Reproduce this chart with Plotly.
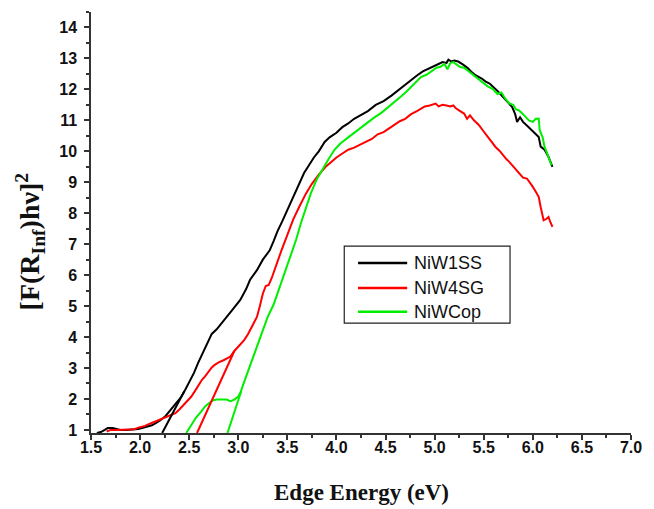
import plotly.graph_objects as go

# ---- data ----
ss_x = [1.56,1.60,1.64,1.67,1.72,1.76,1.80,1.86,1.92,1.98,2.02,2.08,2.12,2.16,2.21,2.26,2.30,2.34,2.38,2.42,
        2.46,2.50,2.55,2.59,2.64,2.69,2.73,2.78,2.82,2.86,2.90,2.95,3.02,3.08,3.12,3.19,3.25,3.28,3.32,3.36,
        3.40,3.45,3.50,3.55,3.62,3.67,3.72,3.77,3.82,3.88,3.93,4.00,4.06,4.12,4.18,4.24,4.32,4.40,4.48,4.56,
        4.63,4.70,4.76,4.82,4.88,4.94,5.00,5.04,5.08,5.12,5.14,5.17,5.20,5.24,5.29,5.34,5.38,5.42,5.48,5.52,
        5.56,5.60,5.64,5.69,5.74,5.79,5.82,5.84,5.87,5.90,5.95,5.99,6.03,6.06,6.08,6.12,6.16,6.18,6.20]
ss_y = [0.90,0.93,1.00,1.06,1.06,1.03,1.00,1.00,1.01,1.03,1.06,1.10,1.15,1.22,1.32,1.45,1.60,1.75,1.90,2.07,
        2.30,2.55,2.85,3.16,3.50,3.88,4.10,4.25,4.40,4.55,4.72,4.92,5.20,5.55,5.85,6.16,6.50,6.62,6.80,7.10,
        7.42,7.75,8.10,8.45,8.97,9.30,9.55,9.80,10.00,10.30,10.45,10.60,10.78,10.90,11.05,11.15,11.30,11.50,11.62,11.80,
        11.98,12.15,12.30,12.45,12.58,12.68,12.78,12.82,12.88,12.85,12.96,12.90,12.93,12.90,12.80,12.68,12.55,12.45,12.35,12.25,
        12.19,12.08,11.95,11.78,11.60,11.43,11.20,10.95,11.10,10.95,10.80,10.68,10.55,10.46,10.15,10.05,9.82,9.65,9.50]

sg_x = [1.66,1.70,1.76,1.82,1.88,1.94,1.99,2.05,2.10,2.15,2.19,2.25,2.30,2.36,2.40,2.45,2.49,2.52,2.56,2.60,
        2.63,2.66,2.70,2.73,2.76,2.80,2.85,2.89,2.92,2.96,3.00,3.03,3.06,3.10,3.15,3.19,3.22,3.25,3.28,3.31,
        3.34,3.39,3.44,3.50,3.56,3.62,3.69,3.75,3.82,3.89,3.95,4.00,4.06,4.12,4.18,4.24,4.30,4.36,4.42,4.48,
        4.54,4.59,4.65,4.70,4.76,4.82,4.86,4.90,4.95,5.01,5.04,5.08,5.12,5.16,5.19,5.22,5.26,5.30,5.33,5.36,
        5.40,5.45,5.49,5.53,5.58,5.62,5.66,5.70,5.73,5.76,5.79,5.83,5.86,5.90,5.94,5.97,5.99,6.02,6.06,6.08,
        6.10,6.11,6.14,6.16,6.18,6.20]
sg_y = [0.95,1.00,1.00,1.00,1.00,1.02,1.08,1.13,1.20,1.27,1.32,1.40,1.46,1.54,1.66,1.82,1.96,2.07,2.26,2.48,
        2.62,2.72,2.90,3.02,3.10,3.18,3.25,3.32,3.37,3.55,3.70,3.80,3.90,4.10,4.40,4.65,5.00,5.40,5.65,5.68,
        5.90,6.38,6.80,7.30,7.80,8.20,8.64,8.95,9.25,9.50,9.68,9.80,9.93,10.05,10.12,10.22,10.32,10.40,10.55,10.62,
        10.75,10.85,10.98,11.05,11.20,11.30,11.38,11.45,11.48,11.54,11.45,11.50,11.48,11.45,11.48,11.38,11.30,11.22,11.05,11.16,
        11.00,10.85,10.68,10.52,10.30,10.14,10.02,9.85,9.75,9.66,9.55,9.40,9.28,9.15,9.12,9.00,8.90,8.75,8.53,8.20,
        7.90,7.77,7.82,7.88,7.70,7.56]

cop_x = [2.47,2.52,2.57,2.62,2.66,2.70,2.74,2.78,2.83,2.88,2.92,2.96,3.00,3.02,3.06,3.10,3.15,3.20,3.25,3.30,
         3.36,3.42,3.48,3.54,3.59,3.64,3.69,3.74,3.80,3.86,3.92,3.98,4.04,4.12,4.18,4.22,4.30,4.38,4.46,4.52,
         4.59,4.66,4.72,4.78,4.82,4.86,4.92,4.97,5.02,5.06,5.10,5.13,5.16,5.19,5.22,5.26,5.30,5.34,5.39,5.44,
         5.49,5.54,5.59,5.64,5.68,5.72,5.76,5.80,5.83,5.86,5.90,5.93,5.96,6.00,6.03,6.06,6.07,6.10,6.12,6.15,
         6.17,6.19]
cop_y = [0.90,1.15,1.40,1.58,1.75,1.86,1.95,1.98,1.97,1.98,1.93,1.98,2.08,2.19,2.55,2.90,3.35,3.80,4.25,4.65,
         5.05,5.60,6.15,6.70,7.15,7.70,8.20,8.65,9.10,9.45,9.75,10.05,10.25,10.45,10.60,10.68,10.90,11.08,11.25,11.40,
         11.58,11.78,11.95,12.15,12.28,12.40,12.48,12.60,12.70,12.73,12.82,12.65,12.85,12.88,12.80,12.72,12.70,12.60,12.50,12.35,
         12.25,12.10,12.02,11.85,11.90,11.70,11.55,11.50,11.35,11.32,11.20,11.10,11.00,10.95,11.05,11.06,10.68,10.45,10.14,9.90,
         9.75,9.55]

# tangent (band-gap extrapolation) lines
ss_tan_x = [2.225, 2.45]
ss_tan_y = [0.90, 2.25]
sg_tan_x = [2.58, 2.96]
sg_tan_y = [0.90, 3.55]
cop_tan_x = [2.89, 3.03]
cop_tan_y = [0.90, 2.25]

names = ["NiW1SS", "NiW4SG", "NiWCop"]
colors = ["#000000", "#ff0000", "#00ee00"]

fig = go.Figure()
series = [(ss_x, ss_y), (sg_x, sg_y), (cop_x, cop_y)]
tangents = [(ss_tan_x, ss_tan_y), (sg_tan_x, sg_tan_y), (cop_tan_x, cop_tan_y)]
for (x, y), name, c in zip(series, names, colors):
    fig.add_trace(go.Scatter(x=x, y=y, mode="lines", name=name, showlegend=False,
                             line=dict(color=c, width=2)))
for (x, y), name, c in zip(tangents, names, colors):
    fig.add_trace(go.Scatter(x=x, y=y, mode="lines", showlegend=False,
                             line=dict(color=c, width=2), hoverinfo="skip"))

axis_common = dict(
    showline=True, linecolor="#333333", linewidth=1.5, mirror=False,
    ticks="outside", ticklen=5, tickwidth=1.5, tickcolor="#333333",
    showgrid=False, zeroline=False,
    tickfont=dict(family="Liberation Sans, Arial, sans-serif", size=16, color="#111111", weight="bold"),
)

fig.update_xaxes(range=[1.5, 7.0], tick0=1.5, dtick=0.5, tickformat=".1f", ticklabelstandoff=-6,
                 minor=dict(dtick=0.25, ticks="outside", ticklen=3, tickwidth=1.5, tickcolor="#333333"),
                 **axis_common)
fig.update_yaxes(range=[0.9, 14.5], tick0=1, dtick=1, ticklabelstandoff=4,
                 minor=dict(tick0=1, dtick=0.5, ticks="outside", ticklen=3, tickwidth=1.5, tickcolor="#333333"),
                 **axis_common)

title_font = dict(family="Liberation Serif, Times New Roman, serif", color="#111111", weight="bold")
fig.add_annotation(text="Edge Energy (eV)", xref="paper", yref="paper", x=0.5, y=-0.142,
                   showarrow=False, xanchor="center", yanchor="middle",
                   font=dict(size=23, **title_font))
fig.add_annotation(text="[F(R<sub>Inf</sub>)hν]<sup>2</sup>", xref="paper", yref="paper",
                   x=-0.113, y=0.455, textangle=-90, showarrow=False,
                   xanchor="center", yanchor="middle",
                   font=dict(size=28, **title_font))

# legend box (drawn in paper coordinates)
leg_x0, leg_x1, leg_y0, leg_y1 = 0.469, 0.776, 0.261, 0.4437
leg_rows = [0.404, 0.3447, 0.2878]
leg_line_x0, leg_line_x1, leg_text_x = 0.4945, 0.5855, 0.5945
fig.add_shape(type="rect", xref="paper", yref="paper", x0=leg_x0, x1=leg_x1, y0=leg_y0, y1=leg_y1,
              line=dict(color="#222222", width=1.2), fillcolor="white", layer="above")
for name, c, ry in zip(names, colors, leg_rows):
    fig.add_shape(type="line", xref="paper", yref="paper", x0=leg_line_x0, x1=leg_line_x1, y0=ry, y1=ry,
                  line=dict(color=c, width=2.5), layer="above")
    fig.add_annotation(text=name, xref="paper", yref="paper", x=leg_text_x, y=ry,
                       xanchor="left", yanchor="middle", showarrow=False,
                       font=dict(family="Liberation Sans, Arial, sans-serif", size=18, color="#111111"))

fig.update_layout(
    width=654, height=509,
    margin=dict(l=91, r=13, t=12, b=76),
    paper_bgcolor="white", plot_bgcolor="white",
    showlegend=False,
)

fig.write_html("out.html", config={"displayModeBar": False},
               post_script="document.body.style.margin='0px';")
